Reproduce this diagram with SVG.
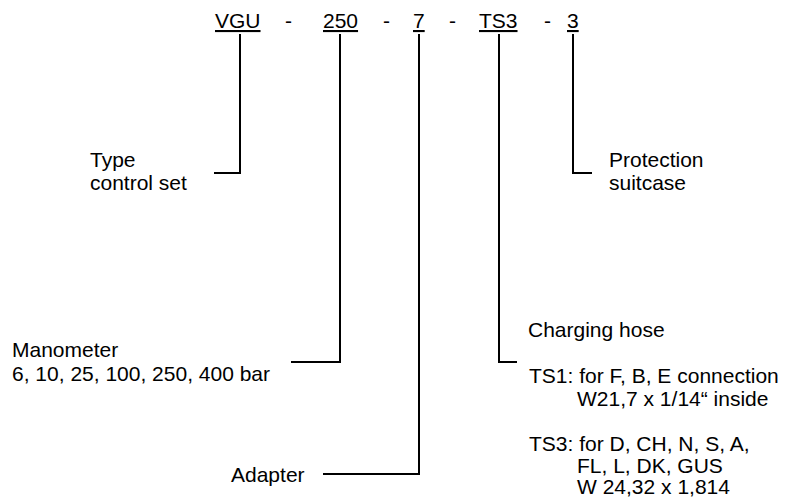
<svg xmlns="http://www.w3.org/2000/svg" width="801" height="500" viewBox="0 0 801 500">
<style>
text{font-family:"Liberation Sans",Arial,sans-serif;font-size:21px;fill:#000}
.u{text-decoration:underline}
polyline{stroke:#000;stroke-width:2;fill:none}
</style>
<rect width="801" height="500" fill="#fff"/>
<g id="code">
<text x="215" y="28" class="u">VGU</text>
<text x="285" y="28">-</text>
<text x="323" y="28" class="u">250</text>
<text x="383" y="28">-</text>
<text x="413" y="28" class="u">7</text>
<text x="449" y="28">-</text>
<text x="479" y="28" class="u">TS3</text>
<text x="544" y="28">-</text>
<text x="567" y="28" class="u">3</text>
</g>
<g id="connectors">
<polyline points="240,34 240,173 214,173"/>
<polyline points="573,34 573,173 592,173"/>
<polyline points="340,34 340,362 291,362"/>
<polyline points="499,34 499,362 517,362"/>
<polyline points="419,34 419,474 323,474"/>
</g>
<g id="type"><text x="90" y="167">Type</text><text x="90" y="190">control set</text></g>
<g id="protection"><text x="609" y="167">Protection</text><text x="609" y="190">suitcase</text></g>
<g id="manometer"><text x="12" y="357">Manometer</text><text x="12" y="381">6, 10, 25, 100, 250, 400 bar</text></g>
<g id="hose">
<text x="528" y="337">Charging hose</text>
<text x="529" y="383">TS1: for F, B, E connection</text>
<text x="577" y="406">W21,7 x 1/14“ inside</text>
<text x="529" y="451">TS3: for D, CH, N, S, A,</text>
<text x="577" y="473">FL, L, DK, GUS</text>
<text x="577" y="494">W 24,32 x 1,814</text>
</g>
<g id="adapter"><text x="231" y="482">Adapter</text></g>
</svg>
